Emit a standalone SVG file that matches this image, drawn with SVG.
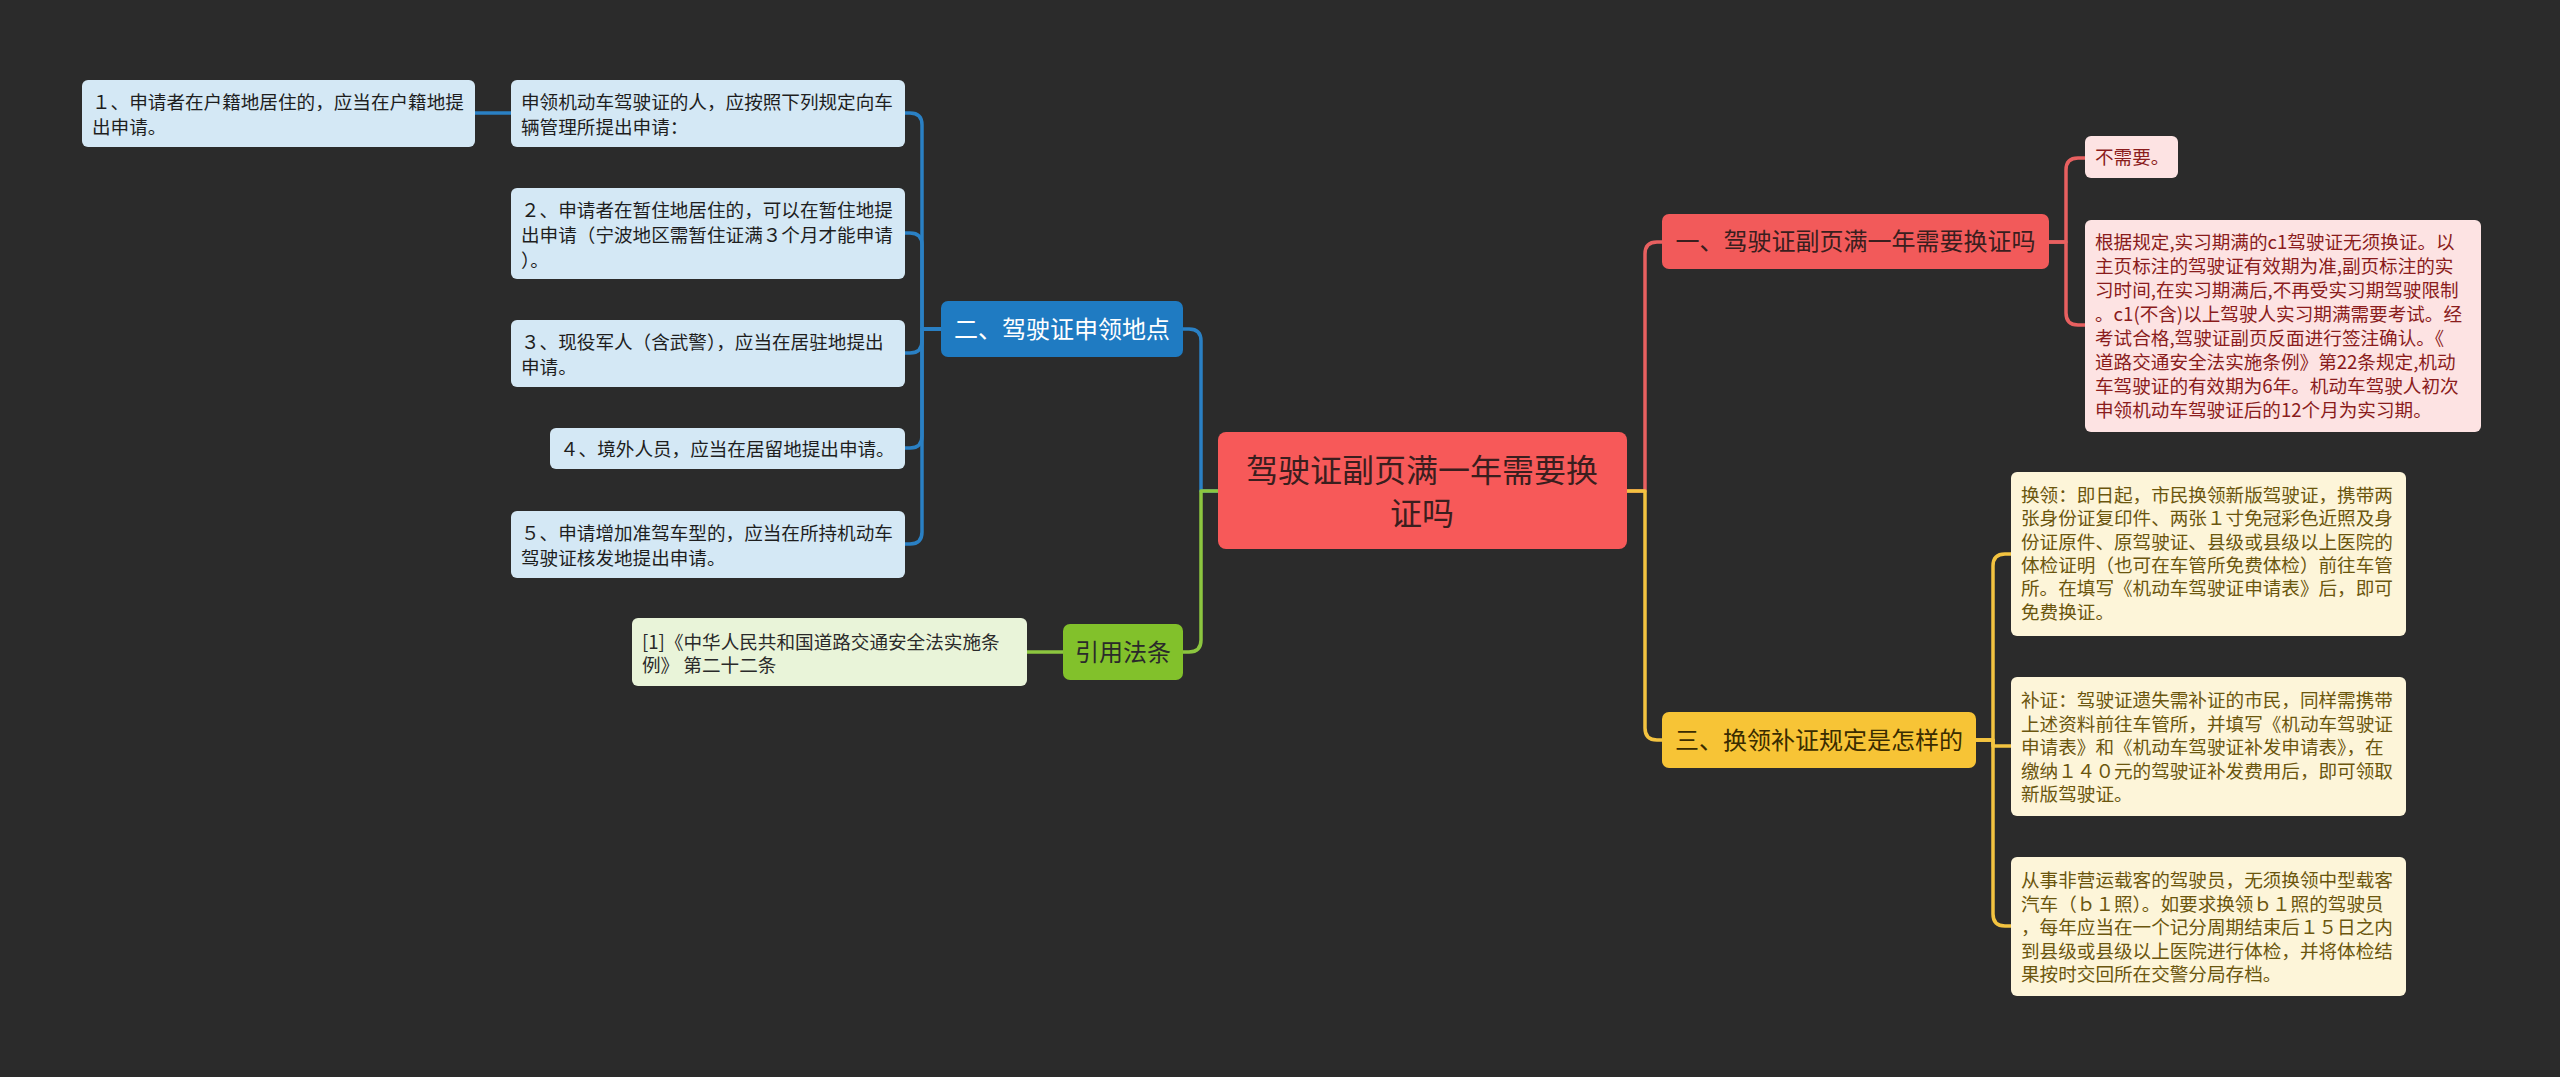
<svg xmlns="http://www.w3.org/2000/svg" width="2560" height="1077" viewBox="0 0 2560 1077">
<style>
text{font-family:"Noto Sans CJK SC","Noto Sans",sans-serif}
.leaf{font-size:18.6px}
.main{font-size:24px}
.root{font-size:32px}
.c{fill:none;stroke-width:3.5;stroke-linejoin:round}
.cb{stroke:#2a80c4}.cr{stroke:#e86060}.cg{stroke:#8cc63f}.cy{stroke:#f3c340}
</style>
<rect width="2560" height="1077" fill="#2b2b2b"/>
<g id="connectors">
<path class="c cb" d="M1218 491 H1201 V341 Q1201 329 1189 329 H1182"/>
<path class="c cg" d="M1218 491 H1201 V640 Q1201 652 1189 652 H1182"/>
<path class="c cr" d="M1626 491 H1645 V254 Q1645 242 1657 242 H1662"/>
<path class="c cy" d="M1626 491 H1645 V728 Q1645 740 1657 740 H1662"/>
<path class="c cr" d="M2049 242 H2066 V170 Q2066 158 2078 158 H2085"/>
<path class="c cr" d="M2049 242 H2066 V313 Q2066 325 2078 325 H2085"/>
<path class="c cy" d="M1976 740 H1993 V566 Q1993 554 2005 554 H2011"/>
<path class="c cy" d="M1976 740 H1993 V746 H2011"/>
<path class="c cy" d="M1976 740 H1993 V914 Q1993 926 2005 926 H2011"/>
<path class="c cb" d="M941 329 H922 V125 Q922 113 910 113 H905"/>
<path class="c cb" d="M941 329 H922 V245 Q922 233 910 233 H905"/>
<path class="c cb" d="M941 329 H922 V341 Q922 353 910 353 H905"/>
<path class="c cb" d="M941 329 H922 V436 Q922 448 910 448 H905"/>
<path class="c cb" d="M941 329 H922 V532 Q922 544 910 544 H905"/>
<path class="c cb" d="M511 113 H475"/>
<path class="c cg" d="M1063 652 H1027"/>
</g>
<g id="root">
<rect x="1218" y="432" width="409" height="117" rx="8" fill="#f75959"/>
<text class="root" text-anchor="middle" fill="#3a1e1e"><tspan x="1422" y="482">驾驶证副页满一年需要换</tspan><tspan x="1422" y="525">证吗</tspan></text>
</g>
<g id="n-er">
<rect x="941" y="301" width="242" height="56" rx="7" fill="#1f7bc2"/>
<text class="main" x="1062" y="338" text-anchor="middle" fill="#ffffff">二、驾驶证申领地点</text>
</g>
<g id="n-yin">
<rect x="1063" y="624" width="120" height="56" rx="7" fill="#82c12b"/>
<text class="main" x="1123" y="661" text-anchor="middle" fill="#2a2a2a">引用法条</text>
</g>
<g id="n-yi">
<rect x="1662" y="214" width="387" height="55" rx="7" fill="#f25a5a"/>
<text class="main" x="1855.5" y="250" text-anchor="middle" fill="#3a1e1e">一、驾驶证副页满一年需要换证吗</text>
</g>
<g id="n-san">
<rect x="1662" y="712" width="314" height="56" rx="7" fill="#f7c436"/>
<text class="main" x="1819" y="749" text-anchor="middle" fill="#3a2c00">三、换领补证规定是怎样的</text>
</g>
<g id="l-shenling">
<rect x="511" y="80" width="394" height="67" rx="6" fill="#d4e8f5"/>
<text class="leaf" fill="#1e1e1e"><tspan x="521" y="109">申领机动车驾驶证的人，应按照下列规定向车</tspan><tspan x="521" y="134">辆管理所提出申请：</tspan></text>
</g>
<g id="l-1">
<rect x="82" y="80" width="393" height="67" rx="6" fill="#d4e8f5"/>
<text class="leaf" fill="#1e1e1e"><tspan x="92" y="109">１、申请者在户籍地居住的，应当在户籍地提</tspan><tspan x="92" y="134">出申请。</tspan></text>
</g>
<g id="l-2">
<rect x="511" y="188" width="394" height="91" rx="6" fill="#d4e8f5"/>
<text class="leaf" fill="#1e1e1e"><tspan x="521" y="217">２、申请者在暂住地居住的，可以在暂住地提</tspan><tspan x="521" y="242">出申请（宁波地区需暂住证满３个月才能申请</tspan><tspan x="521" y="267">）。</tspan></text>
</g>
<g id="l-3">
<rect x="511" y="320" width="394" height="67" rx="6" fill="#d4e8f5"/>
<text class="leaf" fill="#1e1e1e"><tspan x="521" y="349">３、现役军人（含武警），应当在居驻地提出</tspan><tspan x="521" y="374">申请。</tspan></text>
</g>
<g id="l-4">
<rect x="550" y="428" width="355" height="41" rx="6" fill="#d4e8f5"/>
<text class="leaf" x="560" y="456" fill="#1e1e1e">４、境外人员，应当在居留地提出申请。</text>
</g>
<g id="l-5">
<rect x="511" y="511" width="394" height="67" rx="6" fill="#d4e8f5"/>
<text class="leaf" fill="#1e1e1e"><tspan x="521" y="540">５、申请增加准驾车型的，应当在所持机动车</tspan><tspan x="521" y="565">驾驶证核发地提出申请。</tspan></text>
</g>
<g id="l-law">
<rect x="632" y="618" width="395" height="68" rx="6" fill="#e9f4d9"/>
<text class="leaf" fill="#2a2a2a"><tspan x="642" y="649">[1]《中华人民共和国道路交通安全法实施条</tspan><tspan x="642" y="672">例》 第二十二条</tspan></text>
</g>
<g id="l-no">
<rect x="2085" y="136" width="93" height="42" rx="6" fill="#fde3e3"/>
<text class="leaf" x="2095" y="164" fill="#8a1c1c">不需要。</text>
</g>
<g id="l-basis">
<rect x="2085" y="220" width="396" height="212" rx="6" fill="#fde3e3"/>
<text class="leaf" fill="#8a1c1c"><tspan x="2095" y="249">根据规定,实习期满的c1驾驶证无须换证。以</tspan><tspan x="2095" y="273">主页标注的驾驶证有效期为准,副页标注的实</tspan><tspan x="2095" y="297">习时间,在实习期满后,不再受实习期驾驶限制</tspan><tspan x="2095" y="321">。c1(不含)以上驾驶人实习期满需要考试。经</tspan><tspan x="2095" y="345">考试合格,驾驶证副页反面进行签注确认。《</tspan><tspan x="2095" y="369">道路交通安全法实施条例》第22条规定,机动</tspan><tspan x="2095" y="393">车驾驶证的有效期为6年。机动车驾驶人初次</tspan><tspan x="2095" y="417">申领机动车驾驶证后的12个月为实习期。</tspan></text>
</g>
<g id="l-huanling">
<rect x="2011" y="472" width="395" height="164" rx="6" fill="#fdf5d9"/>
<text class="leaf" fill="#6b560e"><tspan x="2021" y="502">换领：即日起，市民换领新版驾驶证，携带两</tspan><tspan x="2021" y="525.3">张身份证复印件、两张１寸免冠彩色近照及身</tspan><tspan x="2021" y="548.7">份证原件、原驾驶证、县级或县级以上医院的</tspan><tspan x="2021" y="572">体检证明（也可在车管所免费体检）前往车管</tspan><tspan x="2021" y="595.3">所。在填写《机动车驾驶证申请表》后，即可</tspan><tspan x="2021" y="618.7">免费换证。</tspan></text>
</g>
<g id="l-buzheng">
<rect x="2011" y="677" width="395" height="139" rx="6" fill="#fdf5d9"/>
<text class="leaf" fill="#6b560e"><tspan x="2021" y="707">补证：驾驶证遗失需补证的市民，同样需携带</tspan><tspan x="2021" y="730.5">上述资料前往车管所，并填写《机动车驾驶证</tspan><tspan x="2021" y="754">申请表》和《机动车驾驶证补发申请表》，在</tspan><tspan x="2021" y="777.5">缴纳１４０元的驾驶证补发费用后，即可领取</tspan><tspan x="2021" y="801">新版驾驶证。</tspan></text>
</g>
<g id="l-b1">
<rect x="2011" y="857" width="395" height="139" rx="6" fill="#fdf5d9"/>
<text class="leaf" fill="#6b560e"><tspan x="2021" y="887">从事非营运载客的驾驶员，无须换领中型载客</tspan><tspan x="2021" y="910.5">汽车（ｂ１照）。如要求换领ｂ１照的驾驶员</tspan><tspan x="2021" y="934">，每年应当在一个记分周期结束后１５日之内</tspan><tspan x="2021" y="957.5">到县级或县级以上医院进行体检，并将体检结</tspan><tspan x="2021" y="981">果按时交回所在交警分局存档。</tspan></text>
</g>
</svg>
